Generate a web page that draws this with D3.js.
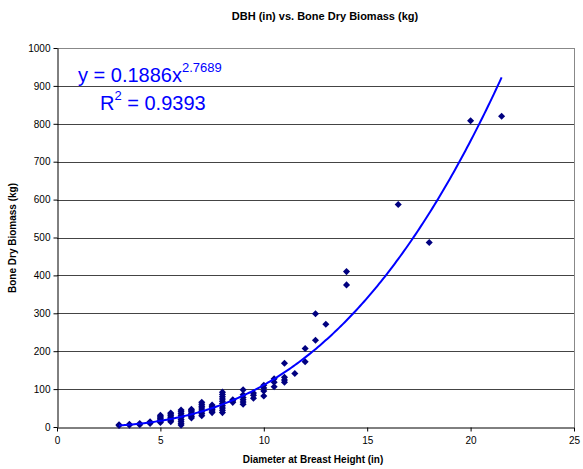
<!DOCTYPE html>
<html>
<head>
<meta charset="utf-8">
<script src="https://cdn.jsdelivr.net/npm/d3@7"></script>
<style>
  body { margin: 0; background: #fff; }
  text { font-family: Arial, "Liberation Sans", sans-serif; }
</style>
</head>
<body>
<svg id="chart"></svg>
<script>
// DBH (in) per tree and measured bone dry biomass (kg)
const dbh = [
  3, 3, 3.5, 3.5, 4, 4, 4.5, 4.5, 4.5,
  5, 5, 5, 5, 5, 5, 5,
  5.5, 5.5, 5.5, 5.5, 5.5, 5.5, 5.5,
  6, 6, 6, 6, 6, 6, 6, 6, 6,
  6.5, 6.5, 6.5, 6.5, 6.5, 6.5, 6.5,
  7, 7, 7, 7, 7, 7, 7, 7,
  7.5, 7.5, 7.5, 7.5, 7.5, 7.5,
  8, 8, 8, 8, 8, 8, 8, 8, 8, 8,
  8.5, 8.5, 8.5,
  9, 9, 9, 9, 9, 9,
  9.5, 9.5, 9.5,
  10, 10, 10, 10,
  10.5, 10.5, 10.5,
  11, 11, 11, 11,
  11.5, 12, 12, 12.5, 12.5, 13, 14, 14, 16.5, 18, 20, 21.5
];
const biomass = [
  4, 6, 5, 7, 6, 9, 9, 12, 14,
  12, 15, 18, 21, 24, 27, 31,
  14, 18, 22, 26, 30, 34, 37,
  5, 10, 15, 20, 25, 30, 35, 40, 45,
  24, 28, 32, 36, 40, 44, 47,
  30, 35, 40, 45, 50, 55, 60, 65,
  38, 42, 46, 50, 54, 58,
  38, 44, 50, 56, 62, 68, 74, 80, 86, 92,
  65, 69, 72,
  60, 66, 72, 78, 85, 98,
  76, 84, 90,
  82, 95, 103, 110,
  106, 118, 127,
  118, 124, 131, 168,
  141, 172, 207, 229, 299, 271, 375, 410, 587, 487, 808, 820
];
const xTicks = [0, 5, 10, 15, 20, 25];
const yTicks = [0, 100, 200, 300, 400, 500, 600, 700, 800, 900, 1000];
// power trendline y = a * x^b
const trendA = 0.1886;
const trendB = 2.7689;
const trendR2 = 0.9393;

const data = dbh.map((d, i) => ({ x: d, y: biomass[i] }));

const margin = { top: 48, right: 9, bottom: 42, left: 57 };
const totalW = 583, totalH = 469;
const width = totalW - margin.left - margin.right;
const height = totalH - margin.top - margin.bottom;

const svgEl = d3.select('#chart').attr('width', totalW).attr('height', totalH);

svgEl.append('text')
  .attr('x', 325).attr('y', 20)
  .attr('text-anchor', 'middle')
  .style('font-size', '11px').style('font-weight', 'bold')
  .text('DBH (in) vs. Bone Dry Biomass (kg)');

const svg = svgEl.append('g')
  .attr('transform', `translate(${margin.left},${margin.top})`);

const x = d3.scaleLinear().domain([0, 25]).range([0, width]);
const y = d3.scaleLinear().domain([0, 1000]).range([height, 0]);

// gridlines
svg.append('g')
  .selectAll('line')
  .data(yTicks.slice(1))
  .enter()
  .append('line')
  .attr('x1', 0).attr('x2', width)
  .attr('y1', (d) => Math.round(y(d)) + 0.5)
  .attr('y2', (d) => Math.round(y(d)) + 0.5)
  .style('stroke', (d) => (d === 1000 ? '#888' : '#444'))
  .style('stroke-width', 1);

// right border
svg.append('line')
  .attr('x1', Math.round(width) + 0.5).attr('x2', Math.round(width) + 0.5)
  .attr('y1', 0).attr('y2', height)
  .style('stroke', '#888');

const xAxis = svg.append('g')
  .attr('transform', `translate(0, ${Math.round(height) + 0.5})`)
  .call(d3.axisBottom(x).tickValues(xTicks).tickSize(4).tickSizeOuter(0));
xAxis.selectAll('text').style('font-size', '10px').attr('dy', '0.9em').style('fill', '#000');
xAxis.selectAll('line, path').style('stroke', '#000');

const yAxis = svg.append('g')
  .attr('transform', 'translate(0.5, 0)')
  .call(d3.axisLeft(y).tickValues(yTicks).tickFormat(d3.format('d')).tickSize(4).tickSizeOuter(0));
yAxis.selectAll('text').style('font-size', '10px').attr('x', -7).style('fill', '#000');
yAxis.selectAll('line, path').style('stroke', '#000');

svgEl.append('text')
  .attr('x', 313).attr('y', 463)
  .attr('text-anchor', 'middle')
  .style('font-size', '10px').style('font-weight', 'bold')
  .text('Diameter at Breast Height (in)');

svgEl.append('text')
  .attr('transform', 'translate(16, 238) rotate(-90)')
  .attr('text-anchor', 'middle')
  .style('font-size', '10px').style('font-weight', 'bold')
  .text('Bone Dry Biomass (kg)');

// points: square diamond markers like Excel
const diamond = d3.symbol().type(d3.symbolSquare).size(25);
svg.selectAll()
  .data(data)
  .enter()
  .append('path')
  .attr('d', diamond)
  .attr('transform', (d) => `translate(${x(d.x)},${y(d.y)}) rotate(45)`)
  .style('fill', '#000080');

// trendline
const xMin = d3.min(dbh), xMax = d3.max(dbh);
const curve = d3.range(0, 201).map((i) => {
  const xv = xMin + (xMax - xMin) * i / 200;
  return { x: xv, y: trendA * Math.pow(xv, trendB) };
});
svg.append('path')
  .datum(curve)
  .attr('d', d3.line().x((d) => x(d.x)).y((d) => y(d.y)))
  .style('fill', 'none')
  .style('stroke', '#0000ff')
  .style('stroke-width', 2);

// equation labels
const eq = svgEl.append('text')
  .attr('x', 78).attr('y', 82)
  .style('font-size', '20px').style('fill', '#0000ff');
eq.append('tspan').text(`y = ${trendA}x`);
eq.append('tspan').attr('dy', -10).style('font-size', '13px').text(trendB);

const r2 = svgEl.append('text')
  .attr('x', 100).attr('y', 110)
  .style('font-size', '20px').style('fill', '#0000ff');
r2.append('tspan').text('R');
r2.append('tspan').attr('dy', -10).style('font-size', '13px').text('2');
r2.append('tspan').attr('dy', 10).text(` = ${trendR2}`);
</script>
</body>
</html>
